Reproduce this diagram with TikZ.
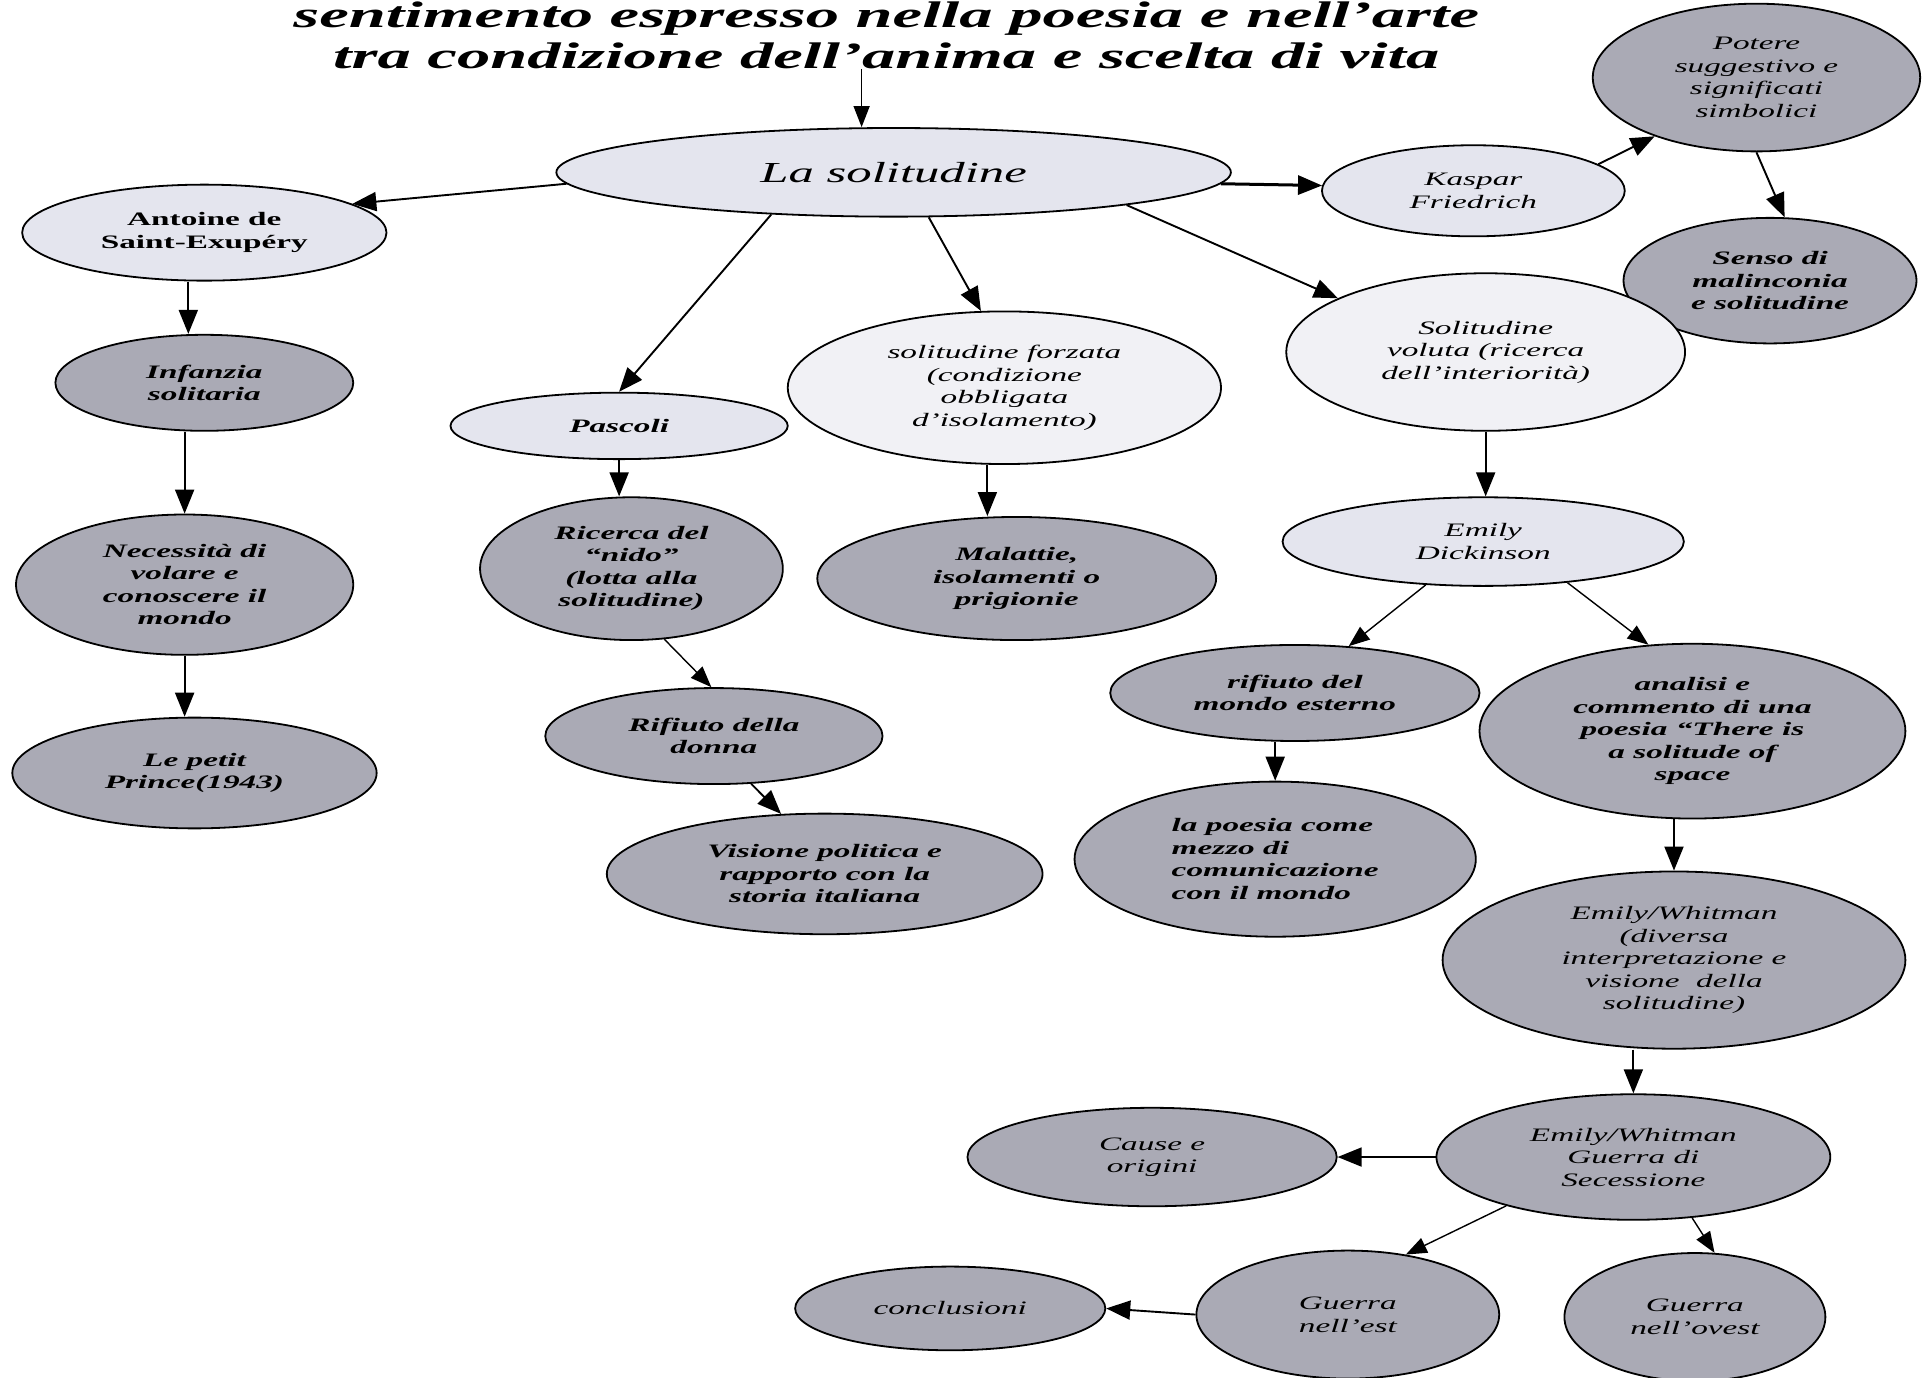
\documentclass[tikz,border=0pt]{standalone}
\usepackage{fontspec}
\usetikzlibrary{shapes.geometric,arrows.meta}
\newfontfamily\nf{Liberation Serif}[FakeStretch=1.75]
\newfontfamily\tf{Liberation Serif}[FakeStretch=1.8]
\definecolor{lightc}{HTML}{E4E5EE}
\definecolor{whitec}{HTML}{F1F1F5}
\definecolor{darkc}{HTML}{AAAAB5}
\tikzset{
  bub/.style={ellipse, draw=black, line width=1.8pt, inner sep=0pt, align=center,
    font=\nf\fontsize{19}{22.5}\selectfont\itshape},
  lt/.style={bub, fill=lightc},
  wt/.style={bub, fill=whitec},
  dk/.style={bub, fill=darkc},
  bi/.style={font=\nf\fontsize{19}{22.5}\selectfont\bfseries\itshape},
  sz/.style 2 args={minimum width={#1*2.4618pt}, minimum height={#2*2.4618pt}},
  arr/.style={-{Triangle[length=24pt,width=19pt]}, line width=1.9pt},
  thinarr/.style={-{Triangle[length=21pt,width=16pt]}, line width=1.4pt}
}
\begin{document}
\begin{tikzpicture}[x=1.2309pt,y=-1.2309pt]
\fill[white] (0,0) rectangle (1568,1119);
\useasboundingbox (0,0) rectangle (1568,1119);

% title
\node[font=\tf\fontsize{37}{41}\selectfont\bfseries\itshape, align=center, inner sep=0pt] (title) at (720,29)
  {sentimento espresso nella poesia e nell’arte\\tra condizione dell’anima e scelta di vita};

% nodes
\node[lt, sz={274}{36}, font=\nf\fontsize{29}{33}\selectfont\itshape] (sol) at (726,140) {La solitudine};
\node[lt, sz={148}{39}, font=\nf\fontsize{19}{22.5}\selectfont\bfseries] (ant) at (166,189) {Antoine de\\Saint-Exupéry};
\node[dk, bi, sz={121}{39}] (inf) at (166,311) {Infanzia\\solitaria};
\node[dk, bi, sz={137}{57}] (nec) at (150,475) {Necessità di\\volare e\\conoscere il\\mondo};
\node[dk, bi, sz={148}{45}] (pet) at (158,628) {Le petit\\Prince(1943)};
\node[lt, bi, sz={137}{27}] (pas) at (503,346) {Pascoli};
\node[dk, bi, sz={123}{58}] (ric) at (513,462) {Ricerca del\\“nido”\\(lotta alla\\solitudine)};
\node[dk, bi, sz={137}{39}] (rif) at (580,598) {Rifiuto della\\donna};
\node[dk, bi, sz={177}{49}] (vis) at (670,710) {Visione politica e\\rapporto con la\\storia italiana};
\node[wt, sz={176}{62}] (forz) at (816,315) {solitudine forzata\\(condizione\\obbligata\\d’isolamento)};
\node[dk, bi, sz={162}{50}] (mal) at (826,470) {Malattie,\\isolamenti o\\prigionie};
\node[lt, sz={123}{37}] (kas) at (1197,155) {Kaspar\\Friedrich};
\node[dk, sz={133}{60}] (pot) at (1427,63) {Potere\\suggestivo e\\significati\\simbolici};
\node[dk, bi, sz={119}{51}] (sen) at (1438,228) {Senso di\\malinconia\\e solitudine};
\node[wt, sz={162}{64}] (vol) at (1207,286) {Solitudine\\voluta (ricerca\\dell’interiorità)};
\node[lt, sz={163}{36}] (emi) at (1205,440) {Emily\\Dickinson};
\node[dk, bi, sz={150}{39}] (rmo) at (1052,563) {rifiuto del\\mondo esterno};
\node[dk, bi, sz={173}{71}] (ana) at (1375,594) {analisi e\\commento di una\\poesia “There is\\a solitude of\\space};
\node[dk, bi, sz={163}{63}, align=left] (poe) at (1036,698) {la poesia come\\mezzo di\\comunicazione\\con il mondo};
\node[dk, sz={188}{72}] (ew1) at (1360,780) {Emily/Whitman\\(diversa\\interpretazione e\\visione\ \ della\\solitudine)};
\node[dk, sz={160}{51}] (ew2) at (1327,940) {Emily/Whitman\\Guerra di\\Secessione};
\node[dk, sz={150}{40}] (cau) at (936,940) {Cause e\\origini};
\node[dk, sz={123}{52}] (est) at (1095,1068) {Guerra\\nell’est};
\node[dk, sz={106}{52}] (ove) at (1377,1070) {Guerra\\nell’ovest};
\node[dk, sz={126}{34}] (con) at (772,1063) {conclusioni};

% connectors
\coordinate (tA) at (700,62);
\draw[thinarr] (title.south -| tA) -- (tA |- sol.north);
\draw[arr] (sol.182) -- (ant.11);
\draw[arr] (sol.199) -- (pas.90);
\draw[arr] (sol.308) -- (forz.107);
\draw[arr] (sol.352) -- (vol.160);
\draw[arr, line width=3pt] (sol.358) -- (kas.178);
\draw[arr] (kas.12) -- (pot.210);
\draw[arr] (pot.270) -- (sen.77);
\draw[arr] ([xshift=-16pt]ant.south) -- ([xshift=-16pt]inf.north);
\draw[arr] (inf.south -| nec.north) -- (nec.north);
\draw[arr] (nec.south) -- (nec.south |- pet.north);
\draw[arr] (pas.south) -- (pas.south |- ric.north);
\draw[thinarr] (ric.295) -- (rif.93);
\draw[arr] (rif.308) -- (vis.126);
\draw[arr] ([xshift=-17pt]forz.south) -- ([xshift=-17pt]forz.south |- mal.north);
\draw[arr] (vol.south) -- (vol.south |- emi.north);
\draw[thinarr] (emi.217) -- (rmo.41);
\draw[thinarr] (emi.334) -- (ana.117);
\draw[arr] (rmo.south -| poe.north) -- (poe.north);
\draw[arr] (ana.south -| ew1.north) -- (ew1.north);
\draw[arr] (ew1.south -| ew2.north) -- (ew2.north);
\draw[arr] (ew2.west) -- (cau.east);
\draw[thinarr] (ew2.201) -- (est.46);
\draw[thinarr] (ew2.314) -- (ove.73);
\draw[arr] (est.west) -- (con.east);
\end{tikzpicture}
\end{document}
